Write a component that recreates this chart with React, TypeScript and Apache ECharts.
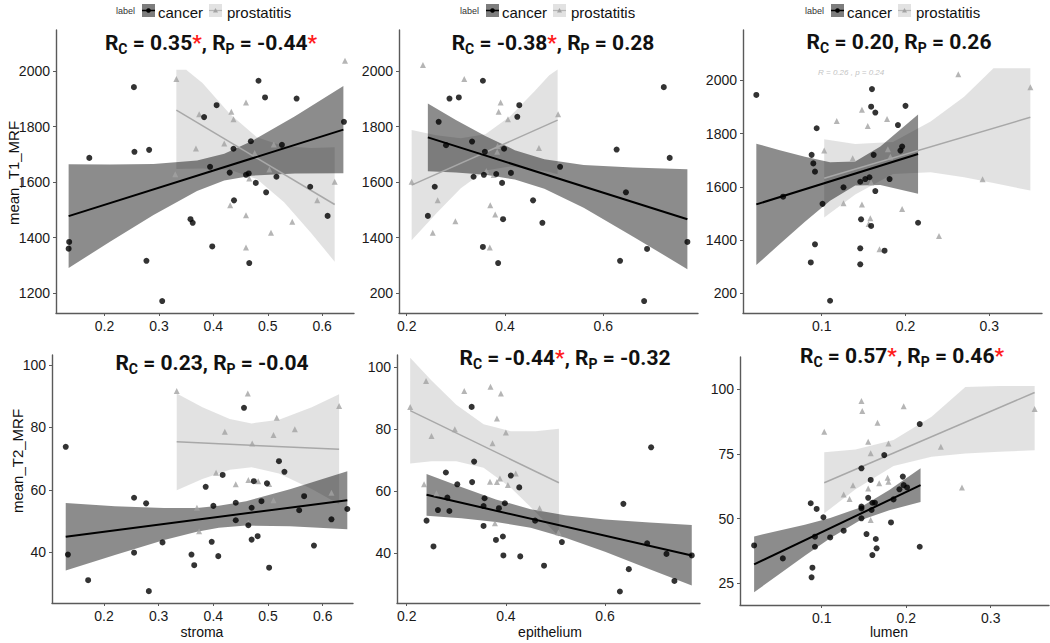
import React, { useEffect, useRef } from "react";
import * as echarts from "echarts";

// ---------- data ----------
// Panel 1: T1 vs stroma
const p1Cancer = [[0.134,1360],[0.135,1384],[0.172,1687],[0.254,1942],[0.255,1709],[0.282,1716],[0.277,1316],[0.306,1171],[0.358,1466],[0.362,1453],[0.383,1834],[0.394,1655],[0.406,1877],[0.398,1368],[0.430,1634],[0.438,1534],[0.437,1720],[0.460,1626],[0.465,1631],[0.469,1747],[0.483,1965],[0.466,1308],[0.478,1597],[0.495,1905],[0.497,1563],[0.516,1619],[0.526,1734],[0.553,1901],[0.578,1583],[0.610,1478],[0.640,1817]];
const p1Prost = [[0.332,1971],[0.330,1628],[0.374,1844],[0.368,1721],[0.433,1853],[0.437,1826],[0.420,1739],[0.431,1516],[0.460,1887],[0.460,1480],[0.460,1364],[0.476,1705],[0.466,1613],[0.503,1645],[0.506,1417],[0.511,1735],[0.545,1457],[0.591,1534],[0.623,1601],[0.642,2037]];
const p1CancerFit = [[0.134,1477],[0.639,1789]];
const p1ProstFit = [[0.332,1859],[0.623,1519]];
const p1CancerBand = [[0.134,1290,1664],[0.21,1385,1663],[0.29,1481,1665],[0.37,1568,1678],[0.42,1606,1702],[0.47,1623,1747],[0.55,1631,1837],[0.639,1632,1946]];
const p1ProstBand = [[0.332,1647,2005],[0.35,1648,2005],[0.38,1649,1957],[0.43,1644,1846],[0.48,1611,1761],[0.53,1527,1729],[0.58,1415,1723],[0.623,1313,1725]];

// Panel 2: T1 vs epithelium
const p2Cancer = [[0.243,1478],[0.257,1583],[0.265,1817],[0.280,1733],[0.287,1901],[0.306,1905],[0.333,1746],[0.336,1619],[0.355,1965],[0.357,1626],[0.355,1366],[0.359,1709],[0.382,1629],[0.386,1308],[0.394,1597],[0.396,1466],[0.398,1720],[0.412,1633],[0.425,1835],[0.429,1877],[0.457,1534],[0.476,1453],[0.512,1655],[0.627,1717],[0.634,1316],[0.646,1563],[0.683,1171],[0.689,1359],[0.723,1942],[0.735,1687],[0.771,1384]];
const p2Prost = [[0.210,1601],[0.233,2022],[0.253,1417],[0.263,1534],[0.299,1459],[0.317,1971],[0.362,1640],[0.370,1516],[0.369,1364],[0.380,1483],[0.384,1709],[0.385,1730],[0.387,1853],[0.391,1887],[0.406,1826],[0.377,1625],[0.469,1723],[0.508,1844]];
const p2CancerFit = [[0.243,1761],[0.771,1466]];
const p2ProstFit = [[0.210,1589],[0.507,1823]];
const p2CancerBand = [[0.243,1639,1883],[0.30,1634,1824],[0.36,1626,1766],[0.42,1609,1715],[0.48,1576,1682],[0.56,1507,1661],[0.66,1404,1652],[0.771,1286,1646]];
const p2ProstBand = [[0.21,1390,1788],[0.26,1487,1769],[0.31,1578,1758],[0.36,1642,1772],[0.41,1656,1836],[0.46,1645,1927],[0.49,1636,1985],[0.507,1628,2006]];

// Panel 3: T1 vs lumen
const p3Cancer = [[0.022,1945],[0.054,1563],[0.088,1720],[0.090,1688],[0.092,1657],[0.094,1820],[0.087,1316],[0.092,1384],[0.101,1536],[0.110,1172],[0.126,1598],[0.146,1619],[0.152,1629],[0.157,1636],[0.146,1369],[0.147,1478],[0.146,1309],[0.159,1901],[0.160,1967],[0.164,1879],[0.162,1720],[0.164,1584],[0.159,1453],[0.175,1360],[0.181,1629],[0.191,1832],[0.194,1736],[0.196,1751],[0.200,1904],[0.215,1465]];
const p3Prost = [[0.103,1736],[0.118,1847],[0.126,1538],[0.137,1707],[0.148,1889],[0.148,1534],[0.155,1828],[0.159,1616],[0.158,1482],[0.156,1460],[0.169,1365],[0.178,1855],[0.179,1741],[0.182,1713],[0.196,1517],[0.240,1415],[0.263,2023],[0.292,1628],[0.349,1974]];
const p3CancerFit = [[0.022,1534],[0.215,1723]];
const p3ProstFit = [[0.103,1632],[0.349,1861]];
const p3CancerBand = [[0.022,1306,1762],[0.05,1385,1737],[0.08,1469,1713],[0.11,1548,1692],[0.14,1605,1695],[0.17,1607,1751],[0.215,1574,1872]];
const p3ProstBand = [[0.103,1485,1779],[0.14,1571,1761],[0.185,1648,1768],[0.23,1655,1845],[0.27,1636,1938],[0.305,1614,2045],[0.349,1586,2045]];

// Panel 4: T2 vs stroma
const p4Cancer = [[0.130,73.8],[0.134,39.3],[0.171,31.1],[0.255,57.5],[0.255,39.9],[0.277,55.7],[0.282,27.6],[0.307,43.2],[0.360,39.3],[0.365,35.9],[0.386,61.0],[0.397,43.4],[0.400,54.9],[0.409,38.8],[0.417,64.8],[0.441,55.9],[0.441,50.3],[0.456,86.3],[0.464,48.7],[0.470,54.3],[0.470,44.1],[0.474,62.8],[0.481,45.2],[0.488,56.4],[0.498,62.1],[0.502,35.1],[0.520,69.2],[0.530,65.8],[0.557,53.5],[0.566,58.0],[0.584,42.2],[0.616,50.6],[0.645,53.9]];
const p4Prost = [[0.333,91.7],[0.370,54.3],[0.374,46.8],[0.405,65.5],[0.421,78.6],[0.441,61.8],[0.463,90.9],[0.464,63.2],[0.464,49.6],[0.471,74.9],[0.482,62.8],[0.502,61.9],[0.510,77.6],[0.516,83.1],[0.510,56.7],[0.549,79.4],[0.616,59.1],[0.630,86.9]];
const p4CancerFit = [[0.130,45.0],[0.645,56.7]];
const p4ProstFit = [[0.333,75.4],[0.630,73.0]];
const p4CancerBand = [[0.13,34.2,55.8],[0.22,39.2,54.8],[0.31,44.0,54.2],[0.37,46.6,54.2],[0.41,47.9,54.9],[0.46,48.6,56.4],[0.54,48.4,60.2],[0.645,47.4,66.0]];
const p4ProstBand = [[0.333,59.9,90.9],[0.38,63.5,86.5],[0.43,66.5,82.7],[0.47,67.3,81.3],[0.52,65.3,82.5],[0.58,60.3,86.5],[0.63,55.4,90.6]];

// Panel 5: T2 vs epithelium
const p5Cancer = [[0.240,50.5],[0.254,42.2],[0.263,53.9],[0.279,66.0],[0.282,57.9],[0.286,53.6],[0.302,62.2],[0.331,87.1],[0.332,62.9],[0.336,69.5],[0.355,48.8],[0.357,57.7],[0.355,55.2],[0.380,44.3],[0.386,54.5],[0.394,45.4],[0.395,39.3],[0.398,56.1],[0.410,65.0],[0.427,61.2],[0.429,39.0],[0.459,50.5],[0.477,36.0],[0.513,43.6],[0.637,55.9],[0.648,34.9],[0.630,27.7],[0.685,43.2],[0.693,74.1],[0.724,39.8],[0.740,31.1],[0.775,39.3]];
const p5Prost = [[0.207,87.1],[0.235,62.2],[0.239,95.4],[0.250,77.7],[0.260,59.3],[0.297,79.9],[0.316,92.2],[0.369,93.6],[0.373,75.4],[0.382,83.4],[0.390,91.4],[0.368,63.0],[0.382,62.9],[0.400,78.9],[0.404,62.0],[0.420,65.7],[0.378,49.7],[0.468,54.5],[0.506,46.7],[0.388,64.1]];
const p5CancerFit = [[0.240,58.8],[0.775,39.3]];
const p5ProstFit = [[0.207,85.9],[0.507,62.7]];
const p5CancerBand = [[0.24,52.1,65.5],[0.31,51.3,61.3],[0.38,50.1,57.3],[0.45,48.2,54.2],[0.52,45.0,52.2],[0.60,40.5,50.9],[0.69,34.9,49.9],[0.775,29.6,49.1]];
const p5ProstBand = [[0.207,68.9,102.9],[0.25,69.6,95.6],[0.30,69.6,87.8],[0.355,67.5,81.5],[0.41,61.1,79.3],[0.46,53.3,79.3],[0.507,45.3,80.1]];

// Panel 6: T2 vs lumen
const p6Cancer = [[0.020,39.6],[0.054,34.6],[0.087,55.9],[0.089,31.0],[0.088,27.3],[0.092,43.0],[0.092,39.1],[0.094,53.7],[0.102,50.5],[0.110,42.7],[0.126,45.3],[0.147,69.4],[0.147,54.6],[0.147,53.9],[0.147,50.1],[0.153,44.0],[0.155,58.0],[0.158,64.9],[0.159,53.3],[0.160,56.1],[0.163,56.1],[0.160,35.9],[0.165,38.5],[0.164,42.1],[0.174,74.5],[0.182,48.5],[0.185,57.4],[0.192,61.3],[0.196,66.2],[0.197,62.9],[0.201,62.0],[0.216,86.5],[0.216,39.1]];
const p6Prost = [[0.103,83.5],[0.126,59.3],[0.133,57.5],[0.137,62.9],[0.147,95.4],[0.148,91.5],[0.155,79.7],[0.158,75.2],[0.155,61.6],[0.158,49.4],[0.166,87.0],[0.168,63.6],[0.178,65.8],[0.179,79.0],[0.179,64.2],[0.197,93.4],[0.241,77.7],[0.266,62.0],[0.352,92.3]];
const p6CancerFit = [[0.020,32.3],[0.217,62.9]];
const p6ProstFit = [[0.103,63.8],[0.352,98.7]];
const p6CancerBand = [[0.02,21.5,43.1],[0.05,28.6,45.4],[0.08,35.6,47.6],[0.11,42.4,50.2],[0.145,49.2,54.2],[0.18,53.2,61.0],[0.217,56.4,69.4]];
const p6ProstBand = [[0.103,52.0,75.6],[0.14,61.3,76.7],[0.185,70.3,80.3],[0.23,73.9,89.3],[0.27,75.1,100.8],[0.31,75.8,101.2],[0.352,76.4,101.2]];

// Tick values and labels
const t1Ticks = [1200, 1400, 1600, 1800, 2000];
const t1LabelsA = ["1200", "1400", "1600", "1800", "2000"];
const t1LabelsB = ["200", "1400", "1600", "1800", "2000"];
const t2TicksA = [40, 60, 80, 100];
const t2TicksB = [25, 50, 75, 100];
const stromaTicks = [0.2, 0.3, 0.4, 0.5, 0.6];
const epiTicks = [0.2, 0.4, 0.6];
const lumenTicks = [0.1, 0.2, 0.3];

const yNames = ["mean_T1_MRF", "mean_T2_MRF"];
const xNames = ["stroma", "epithelium", "lumen"];
const legendNames = ["cancer", "prostatitis"];

// correlation titles: [Rc, starC, Rp, starP]
const titles: [string, boolean, string, boolean][] = [
  ["0.35", true, "-0.44", true],
  ["-0.38", true, "0.28", false],
  ["0.20", false, "0.26", false],
  ["0.23", false, "-0.04", false],
  ["-0.44", true, "-0.32", false],
  ["0.57", true, "0.46", true],
];

const panels = [
  { cancer: p1Cancer, prost: p1Prost, cFit: p1CancerFit, pFit: p1ProstFit, cBand: p1CancerBand, pBand: p1ProstBand },
  { cancer: p2Cancer, prost: p2Prost, cFit: p2CancerFit, pFit: p2ProstFit, cBand: p2CancerBand, pBand: p2ProstBand },
  { cancer: p3Cancer, prost: p3Prost, cFit: p3CancerFit, pFit: p3ProstFit, cBand: p3CancerBand, pBand: p3ProstBand },
  { cancer: p4Cancer, prost: p4Prost, cFit: p4CancerFit, pFit: p4ProstFit, cBand: p4CancerBand, pBand: p4ProstBand },
  { cancer: p5Cancer, prost: p5Prost, cFit: p5CancerFit, pFit: p5ProstFit, cBand: p5CancerBand, pBand: p5ProstBand },
  { cancer: p6Cancer, prost: p6Prost, cFit: p6CancerFit, pFit: p6ProstFit, cBand: p6CancerBand, pBand: p6ProstBand },
];

// ---------- layout ----------
const grids = [
  { left: 56, top: 30, width: 298, height: 283 },
  { left: 399, top: 30, width: 299, height: 283 },
  { left: 743, top: 30, width: 299, height: 283 },
  { left: 52, top: 355, width: 301, height: 248 },
  { left: 397, top: 355, width: 303, height: 248 },
  { left: 740, top: 357, width: 309, height: 248 },
];
const xRanges = [[0.1108, 0.6585], [0.1843, 0.7926], [0.0061, 0.3629], [0.1049, 0.6554], [0.1804, 0.7916], [0.0033, 0.369]];
const yRanges = [[1128, 2148], [1128, 2148], [1126, 2189], [23.8, 103.2], [24.0, 103.8], [16.6, 112.4]];
const xTickSets = [stromaTicks, epiTicks, lumenTicks, stromaTicks, epiTicks, lumenTicks];
const yTickSets = [t1Ticks, t1Ticks, t1Ticks, t2TicksA, t2TicksA, t2TicksB];
const yLabelSets = [t1LabelsA, t1LabelsB, t1LabelsB, null, null, null];
const titlePos = [[211, 43], [553, 43], [899, 42], [212, 363], [565, 358], [902, 356]];

const AXIS_COLOR = "#5a5a5a";
const LABEL_FONT = "'Liberation Sans', Arial, sans-serif";
const CANCER_BAND = "rgba(0,0,0,0.45)";
const PROST_BAND = "rgba(160,160,160,0.30)";
const PROST_COLOR = "#a3a3a3";

function bandSeries(band: number[][], idx: number, fill: string) {
  return {
    type: "custom",
    xAxisIndex: idx,
    yAxisIndex: idx,
    silent: true,
    z: 1,
    data: [[band[0][0], band[0][1]]],
    renderItem: (_p: any, api: any) => {
      const top = band.map((b) => api.coord([b[0], b[2]]));
      const bot = band.slice().reverse().map((b) => api.coord([b[0], b[1]]));
      return {
        type: "polygon",
        shape: { points: top.concat(bot) },
        style: { fill, stroke: "none" },
      };
    },
  };
}

function legendGraphics(dx: number) {
  const cy = 11;
  return [
    { type: "text", x: 116 + dx, y: cy, style: { text: "label", fontSize: 9, fill: "#333", font: `9px ${LABEL_FONT}`, verticalAlign: "middle", align: "left" } },
    { type: "rect", shape: { x: 142 + dx, y: 4, width: 13, height: 13 }, style: { fill: "#7d7d7d" } },
    { type: "line", shape: { x1: 142 + dx, y1: 10.5, x2: 155 + dx, y2: 10.5 }, style: { stroke: "#000", lineWidth: 1.5 } },
    { type: "circle", shape: { cx: 148.5 + dx, cy: 10.5, r: 2.3 }, style: { fill: "#000" } },
    { type: "text", x: 158 + dx, y: cy + 1, style: { text: legendNames[0], font: `15px ${LABEL_FONT}`, fill: "#111", verticalAlign: "middle", align: "left" } },
    { type: "rect", shape: { x: 209 + dx, y: 4, width: 13, height: 13 }, style: { fill: "#e2e2e2" } },
    { type: "line", shape: { x1: 209 + dx, y1: 10.5, x2: 222 + dx, y2: 10.5 }, style: { stroke: "#b5b5b5", lineWidth: 1.2 } },
    { type: "polygon", shape: { points: [[215.5 + dx, 8], [218 + dx, 12.5], [213 + dx, 12.5]] }, style: { fill: PROST_COLOR } },
    { type: "text", x: 227 + dx, y: cy + 1, style: { text: legendNames[1], font: `15px ${LABEL_FONT}`, fill: "#111", verticalAlign: "middle", align: "left" } },
  ];
}

function titleGraphic(i: number) {
  const [rc, sc, rp, sp] = titles[i];
  const text =
    "{b|R}{s|C}{b| = " + rc + "}" + (sc ? "{r|*}" : "") + "{b|, R}{s|P}{b| = " + rp + "}" + (sp ? "{r|*}" : "");
  const base = { fontFamily: "Roboto", fontWeight: "bold", fontSize: 21, lineHeight: 26, verticalAlign: "middle", fill: "#111" };
  return {
    type: "text",
    x: titlePos[i][0],
    y: titlePos[i][1],
    style: {
      text,
      align: "center",
      verticalAlign: "middle",
      rich: {
        b: base,
        r: { ...base, fill: "#ff1a1a" },
        s: { fontFamily: "Roboto", fontWeight: "bold", fontSize: 14, lineHeight: 26, verticalAlign: "bottom", fill: "#111" },
      },
    },
  };
}

export default function App() {
  const ref = useRef<HTMLDivElement>(null);
  useEffect(() => {
    if (!ref.current) return;
    const chart = echarts.init(ref.current, undefined, { renderer: "svg" });

    const xAxis = grids.map((_, i) => ({
      type: "value",
      gridIndex: i,
      min: xRanges[i][0],
      max: xRanges[i][1],
      splitLine: { show: false },
      axisLine: { show: true, onZero: false, lineStyle: { color: AXIS_COLOR, width: 1.4 } },
      axisTick: { show: true, length: 3, customValues: xTickSets[i], lineStyle: { color: AXIS_COLOR } },
      axisLabel: {
        show: true,
        customValues: xTickSets[i],
        margin: 6,
        color: "#1a1a1a",
        fontSize: 14,
        fontFamily: LABEL_FONT,
        formatter: (v: number) => String(Math.round(v * 10) / 10),
      },
    }));
    const yAxis = grids.map((_, i) => ({
      type: "value",
      gridIndex: i,
      min: yRanges[i][0],
      max: yRanges[i][1],
      splitLine: { show: false },
      axisLine: { show: true, onZero: false, lineStyle: { color: AXIS_COLOR, width: 1.4 } },
      axisTick: { show: true, length: 3, customValues: yTickSets[i], lineStyle: { color: AXIS_COLOR } },
      axisLabel: {
        show: true,
        customValues: yTickSets[i],
        margin: 6,
        color: "#1a1a1a",
        fontSize: 14,
        fontFamily: LABEL_FONT,
        formatter: (v: number) => {
          const labels = yLabelSets[i];
          if (labels) {
            const k = yTickSets[i].indexOf(Math.round(v));
            return k >= 0 ? labels[k] : String(v);
          }
          return String(Math.round(v));
        },
      },
    }));

    const series: any[] = [];
    panels.forEach((p, i) => {
      series.push(bandSeries(p.pBand, i, PROST_BAND));
      series.push(bandSeries(p.cBand, i, CANCER_BAND));
    });
    panels.forEach((p, i) => {
      series.push({
        type: "line", xAxisIndex: i, yAxisIndex: i, data: p.pFit, showSymbol: false, silent: true, z: 3,
        lineStyle: { color: "#a8a8a8", width: 1.5 },
      });
      series.push({
        type: "line", xAxisIndex: i, yAxisIndex: i, data: p.cFit, showSymbol: false, silent: true, z: 3,
        lineStyle: { color: "#000", width: 2 },
      });
    });
    panels.forEach((p, i) => {
      series.push({
        type: "scatter", xAxisIndex: i, yAxisIndex: i, data: p.prost, symbol: "triangle", symbolSize: 6, z: 4,
        itemStyle: { color: PROST_COLOR },
      });
      series.push({
        type: "scatter", xAxisIndex: i, yAxisIndex: i, data: p.cancer, symbol: "circle", symbolSize: 6, z: 5,
        itemStyle: { color: "#000" },
      });
    });

    const graphic: any[] = [
      ...legendGraphics(0),
      ...legendGraphics(344),
      ...legendGraphics(689),
      ...titles.map((_, i) => titleGraphic(i)),
      { type: "text", x: 13, y: 173, rotation: Math.PI / 2, style: { text: yNames[0], font: `15px ${LABEL_FONT}`, fill: "#111", align: "center", verticalAlign: "middle" } },
      { type: "text", x: 17, y: 461, rotation: Math.PI / 2, style: { text: yNames[1], font: `15px ${LABEL_FONT}`, fill: "#111", align: "center", verticalAlign: "middle" } },
      { type: "text", x: 202, y: 632, style: { text: xNames[0], font: `14px ${LABEL_FONT}`, fill: "#111", align: "center", verticalAlign: "middle" } },
      { type: "text", x: 550, y: 632, style: { text: xNames[1], font: `14px ${LABEL_FONT}`, fill: "#111", align: "center", verticalAlign: "middle" } },
      { type: "text", x: 889, y: 632, style: { text: xNames[2], font: `14px ${LABEL_FONT}`, fill: "#111", align: "center", verticalAlign: "middle" } },
      { type: "text", x: 818, y: 72, style: { text: "R = 0.26 , p = 0.24", font: `italic 8px ${LABEL_FONT}`, fill: "#c4c4c4", align: "left", verticalAlign: "middle" } },
    ];

    chart.setOption({
      animation: false,
      backgroundColor: "#ffffff",
      grid: grids.map((g) => ({ ...g, containLabel: false })),
      xAxis,
      yAxis,
      series,
      graphic,
    });
    return () => chart.dispose();
  }, []);

  return (
    <div
      ref={ref}
      style={{ position: "absolute", left: 0, top: 0, width: 1050, height: 643, background: "#fff" }}
    />
  );
}
